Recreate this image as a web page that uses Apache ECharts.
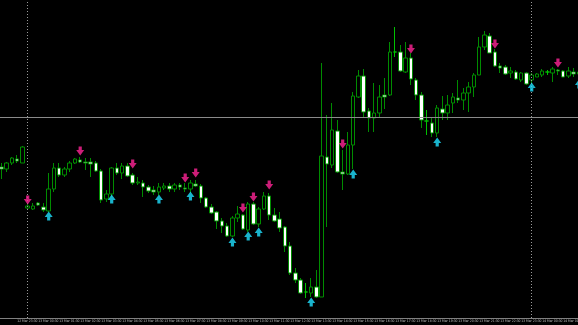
<!DOCTYPE html>
<html><head><meta charset="utf-8">
<script src="https://cdn.jsdelivr.net/npm/echarts@6/dist/echarts.min.js"></script>
<style>html,body{margin:0;padding:0;background:#000;}#c{width:578px;height:325px;}</style>
</head><body><div id="c"></div>
<script>
const openP = [1.10151,1.10149,1.10155,1.10159,1.10155,1.10110,1.10109,1.10115,1.10111,1.10107,
1.10129,1.10150,1.10143,1.10149,1.10155,1.10158,1.10156,1.10156,1.10155,1.10147,
1.10119,1.10124,1.10150,1.10145,1.10152,1.10143,1.10135,1.10135,1.10131,1.10128,
1.10126,1.10130,1.10132,1.10129,1.10133,1.10130,1.10129,1.10134,1.10132,1.10120,
1.10111,1.10106,1.10097,1.10092,1.10082,1.10100,1.10103,1.10088,1.10114,1.10094,
1.10109,1.10122,1.10103,1.10099,1.10091,1.10072,1.10045,1.10038,1.10026,1.10025,
1.10031,1.10021,1.10161,1.10153,1.10187,1.10146,1.10144,1.10173,1.10221,1.10242,
1.10207,1.10200,1.10205,1.10223,1.10223,1.10266,1.10266,1.10246,1.10260,1.10238,
1.10223,1.10197,1.10195,1.10185,1.10209,1.10205,1.10215,1.10220,1.10218,1.10225,
1.10231,1.10243,1.10271,1.10282,1.10266,1.10252,1.10251,1.10245,1.10246,1.10238,
1.10245,1.10238,1.10241,1.10243,1.10246,1.10245,1.10248,1.10247,1.10242,1.10246,
1.10244];
const closeP = [1.10149,1.10155,1.10160,1.10157,1.10171,1.10112,1.10112,1.10113,1.10108,1.10129,
1.10150,1.10143,1.10149,1.10155,1.10159,1.10156,1.10155,1.10154,1.10147,1.10118,
1.10124,1.10150,1.10145,1.10152,1.10142,1.10135,1.10136,1.10131,1.10127,1.10126,
1.10131,1.10132,1.10129,1.10133,1.10131,1.10129,1.10135,1.10132,1.10120,1.10111,
1.10105,1.10097,1.10092,1.10082,1.10100,1.10104,1.10089,1.10114,1.10094,1.10109,
1.10122,1.10103,1.10097,1.10090,1.10072,1.10045,1.10038,1.10025,1.10026,1.10031,
1.10021,1.10162,1.10154,1.10188,1.10146,1.10144,1.10173,1.10222,1.10242,1.10206,
1.10200,1.10205,1.10221,1.10221,1.10266,1.10266,1.10247,1.10260,1.10239,1.10223,
1.10198,1.10197,1.10185,1.10210,1.10205,1.10213,1.10221,1.10218,1.10225,1.10231,
1.10243,1.10271,1.10283,1.10265,1.10252,1.10250,1.10244,1.10247,1.10239,1.10245,
1.10234,1.10243,1.10244,1.10247,1.10246,1.10249,1.10247,1.10241,1.10247,1.10244,
1.10246];
const lowP = [1.10139,1.10146,1.10153,1.10155,1.10155,1.10109,1.10108,1.10112,1.10106,1.10106,
1.10126,1.10141,1.10141,1.10146,1.10154,1.10155,1.10148,1.10141,1.10146,1.10115,
1.10116,1.10121,1.10143,1.10139,1.10141,1.10133,1.10133,1.10121,1.10125,1.10123,
1.10123,1.10128,1.10126,1.10126,1.10128,1.10126,1.10125,1.10131,1.10115,1.10110,
1.10104,1.10089,1.10085,1.10081,1.10081,1.10096,1.10088,1.10086,1.10093,1.10091,
1.10108,1.10098,1.10096,1.10086,1.10066,1.10043,1.10035,1.10024,1.10020,1.10021,
1.10020,1.10021,1.10091,1.10150,1.10145,1.10128,1.10143,1.10149,1.10220,1.10200,
1.10186,1.10186,1.10201,1.10209,1.10222,1.10261,1.10246,1.10245,1.10233,1.10218,
1.10190,1.10183,1.10181,1.10181,1.10198,1.10198,1.10205,1.10215,1.10208,1.10206,
1.10221,1.10243,1.10268,1.10265,1.10251,1.10245,1.10243,1.10240,1.10238,1.10236,
1.10233,1.10235,1.10241,1.10241,1.10243,1.10236,1.10243,1.10241,1.10240,1.10241,
1.10242];
const highP = [1.10155,1.10156,1.10161,1.10163,1.10172,1.10114,1.10115,1.10116,1.10115,1.10145,
1.10155,1.10155,1.10151,1.10157,1.10160,1.10161,1.10160,1.10160,1.10157,1.10149,
1.10128,1.10151,1.10155,1.10155,1.10155,1.10145,1.10141,1.10138,1.10133,1.10132,
1.10135,1.10135,1.10135,1.10135,1.10135,1.10135,1.10138,1.10138,1.10134,1.10121,
1.10114,1.10107,1.10100,1.10095,1.10102,1.10112,1.10104,1.10116,1.10116,1.10111,
1.10126,1.10125,1.10110,1.10106,1.10092,1.10076,1.10050,1.10040,1.10035,1.10040,
1.10048,1.10255,1.10203,1.10215,1.10198,1.10168,1.10186,1.10226,1.10248,1.10249,
1.10210,1.10235,1.10233,1.10240,1.10276,1.10291,1.10273,1.10276,1.10265,1.10240,
1.10226,1.10208,1.10201,1.10213,1.10222,1.10223,1.10225,1.10238,1.10230,1.10236,
1.10245,1.10281,1.10287,1.10285,1.10269,1.10255,1.10253,1.10251,1.10248,1.10246,
1.10246,1.10245,1.10245,1.10249,1.10248,1.10251,1.10249,1.10248,1.10251,1.10250,
1.10248];
// signal arrows: [bar index, price]
const sellArrows = [[5,1.10118],[15,1.10167],[25,1.10154],[35,1.10140],[37,1.10145],[46,1.10110],
  [48,1.10121],[51,1.10133],[65,1.10174],[78,1.10269],[94,1.10274],[106,1.10255]];
const buyArrows = [[9,1.10102],[21,1.10119],[30,1.10119],[36,1.10122],[44,1.10076],[47,1.10082],
  [49,1.10086],[59,1.10016],[67,1.10144],[83,1.10176],[101,1.10231],[110,1.10234]];
const crossPrice = 1.10201;
const daySeparators = [5, 101];
const days = ['12 Mar','13 Mar','14 Mar'];
const pad = n => String(n).padStart(2,'0');
const categories = openP.map((_, i) => {
  const m = (i - 5) * 15 + 1440;
  const d = Math.floor(m / 1440), mm = m % 1440;
  return days[d] + ' ' + pad(Math.floor(mm / 60)) + ':' + pad(mm % 60);
});
const candles = openP.map((o, i) => [o, closeP[i], lowP[i], highP[i]]);

const chart = echarts.init(document.getElementById('c'), null, {renderer:'canvas'});
const downArrow = 'path://M3,0 L7,0 L7,4 L10,4 L5,10 L0,4 L3,4 Z';
const upArrow = 'path://M5,0 L10,6 L7,6 L7,10 L3,10 L3,6 L0,6 Z';
chart.setOption({
  backgroundColor:'#000000',
  animation:false,
  grid:{left:-1.175, top:0, width:582.75, height:318, containLabel:false, outerBoundsMode:'none'},
  xAxis:{type:'category', data:categories, boundaryGap:true,
    axisLine:{show:true, lineStyle:{color:'#808080', width:1}},
    axisTick:{show:false},
    axisLabel:{interval:(i)=>i%4===3, align:'left', margin:2, fontSize:3.4, color:'#c0c0c0',
      fontFamily:"'Liberation Sans Narrow', 'DejaVu Sans Condensed', 'Liberation Sans'"},
    splitLine:{show:false}},
  yAxis:{type:'value', min:1.1, max:1.10318, show:false, splitLine:{show:false}},
  series:[
    {type:'line', data:[], silent:true,
      markLine:{silent:true, symbol:'none', precision:6, label:{show:false}, animation:false,
        data:[{yAxis:crossPrice}], lineStyle:{color:'#8a8a8a', type:'solid', width:1}}},
    {type:'line', data:[], silent:true,
      markLine:{silent:true, symbol:'none', label:{show:false}, animation:false,
        data:daySeparators.map(i => ({xAxis:categories[i]})), lineStyle:{color:'#9a9a9a', type:[1,2], width:1}}},
    {type:'candlestick', data:candles, barWidth:4, z:3,
      itemStyle:{color:'#000000', color0:'#ffffff', borderColor:'#008c00', borderColor0:'#008c00', borderColorDoji:'#00c000', borderWidth:1}},
    {type:'scatter', data:sellArrows, symbol:downArrow, symbolSize:[8,9], itemStyle:{color:'#ff2496'}, z:5},
    {type:'scatter', data:buyArrows, symbol:upArrow, symbolSize:[8,9], itemStyle:{color:'#1fe0ff'}, z:5}
  ]
});
</script></body></html>
